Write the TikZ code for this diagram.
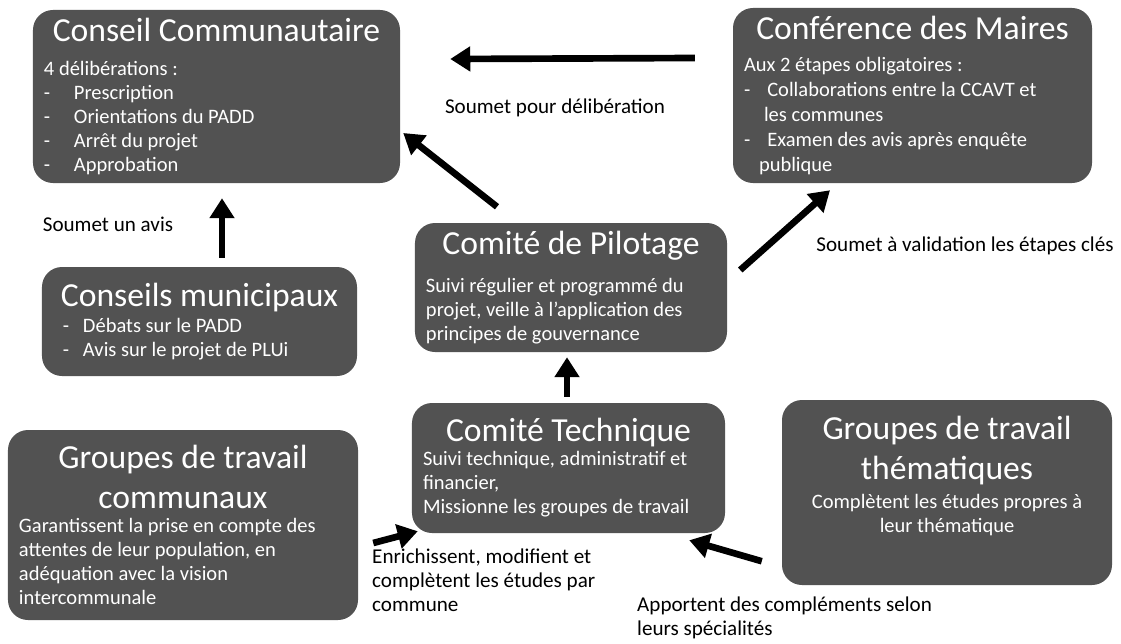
\documentclass[tikz,border=0pt]{standalone}
\usepackage{fontspec}
\setmainfont{Carlito}
\usetikzlibrary{positioning, calc, arrows.meta}
\newcommand{\titre}{\fontsize{28.7}{34}\selectfont}
\newcommand{\tiret}[1][0.9cm]{\makebox[#1][l]{-}}
\definecolor{gris}{RGB}{82,82,82}
\tikzset{
  bloc/.style={rectangle, rounded corners=0.6cm, fill=gris, text=white, inner xsep=0.33cm, inner ysep=0.1cm,
    font=\fontsize{17.5}{20.5}\selectfont, align=flush left},
  fleche/.style={-{Triangle[length=0.6cm,width=0.72cm]}, line width=0.2cm},
  legende/.style={font=\fontsize{18}{20.5}\selectfont, align=flush left, inner sep=0pt}
}
\begin{document}
\begin{tikzpicture}[x=0.03cm, y=-0.03cm]
    \useasboundingbox (0,0) rectangle (1121,643);
    \node (conseil) at (216.5,96.5) [bloc, minimum width=11.01cm, minimum height=5.19cm, text width=10.35cm]
      {{\centering\titre Conseil Communautaire\par}\vspace{0.3cm}
       4 délibérations :\par
       \tiret Prescription\par
       \tiret Orientations du PADD\par
       \tiret Arrêt du projet\par
       \tiret Approbation};
    \node (maires) at (912.5,95.5) [bloc, minimum width=10.77cm, minimum height=5.25cm, text width=10.11cm, font=\fontsize{17.5}{21.5}\selectfont]
      {{\centering\titre Conférence des Maires\par}\vspace{0.2cm}
       Aux 2 étapes obligatoires :\par
       \tiret[0.7cm]Collaborations entre la CCAVT et\par
       \hspace*{0.6cm}les communes\par
       \tiret[0.7cm]Examen des avis après enquête\par
       \hspace*{0.45cm}publique};
    \node (municipaux) at (199.5,321.5) [bloc, minimum width=9.45cm, minimum height=3.27cm, text width=8.79cm]
      {{\centering\titre Conseils municipaux\par}\vspace{0.05cm}
       \hspace*{0.3cm}\tiret[0.6cm]Débats sur le PADD\par
       \hspace*{0.3cm}\tiret[0.6cm]Avis sur le projet de PLUi};
    \node (pilotage) at (571,287.5) [bloc, minimum width=9.36cm, minimum height=3.87cm, text width=8.7cm]
      {{\centering\titre Comité de Pilotage\par}\vspace{0.4cm}
       Suivi régulier et programmé du\\ projet, veille à l'application des\\ principes de gouvernance};
    \node (technique) at (568.5,468) [bloc, minimum width=9.39cm, minimum height=3.9cm, text width=8.73cm]
      {{\centering\titre Comité Technique\par}
       Suivi technique, administratif et\\ financier,\\ Missionne les groupes de travail};
    \node (communaux) at (183,525) [bloc, minimum width=10.5cm, minimum height=5.7cm, text width=9.84cm]
      {{\centering\titre Groupes de travail\\ communaux\par}
       Garantissent la prise en compte des\\ attentes de leur population, en\\ adéquation avec la vision\\ intercommunale};
    \node (thematiques) at (947,492.5) [bloc, minimum width=9.9cm, minimum height=5.55cm, text width=9.24cm]
      {{\centering\titre Groupes de travail\\ thématiques\par}\vspace{0.15cm}
       {\centering Complètent les études propres à\\ leur thématique\par}\vspace{1cm}};
    % liaisons
    \draw[fleche] ($(maires.west)+(-38,-37.5)$) -- ($(conseil.east)+(50,-37.5)$);
    \draw[fleche] ($(pilotage.north)+(-74,-16)$) -- ($(conseil.east)+(3,36.5)$);
    \draw[fleche] ($(municipaux.north)+(22.5,-9)$) -- ($(conseil.south)+(5.5,15)$);
    \draw[fleche] ($(pilotage.east)+(13,-17.5)$) -- ($(maires.south)+(-82.5,7)$);
    \draw[fleche] ($(technique.north)+(-1.5,-6)$) -- ($(pilotage.south)+(-4,5)$);
    \draw[fleche] ($(communaux.east)+(15,18)$) -- ($(technique.south west)+(6,-2)$);
    \draw[fleche] ($(thematiques.south west)+(-20,-24)$) -- ($(technique.south east)+(-36,7)$);
    % legendes
    \node (deliberation) at (555,108) [legende] {Soumet pour délibération};
    \node (avis) at (108,224) [legende] {Soumet un avis};
    \node (validation) at (965,246) [legende] {Soumet à validation les étapes clés};
    \node (enrichissent) at (372,549) [legende, anchor=north west] {Enrichissent, modifient et\\ complètent les études par\\ commune};
    \node (apportent) at (637,597) [legende, anchor=north west] {Apportent des compléments selon\\ leurs spécialités};
\end{tikzpicture}
\end{document}
